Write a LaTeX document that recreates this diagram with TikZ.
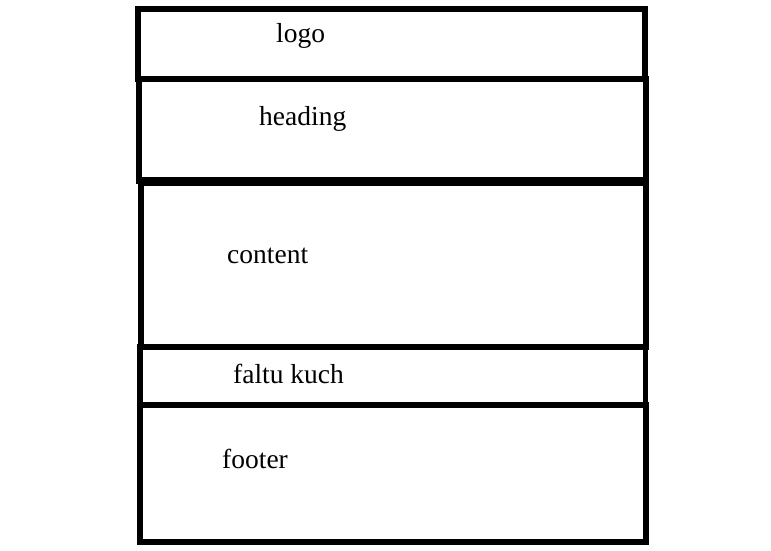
\documentclass[tikz,border=0pt]{standalone}
\usepackage{fontspec}
\setmainfont{Liberation Serif}
\begin{document}
\begin{tikzpicture}[x=1pt,y=-1pt,
  panel/.style={draw=black,line width=6pt},
  label/.style={anchor=base west,inner sep=0pt,font=\fontsize{27.5}{30}\selectfont}]
\useasboundingbox (0,0) rectangle (771,550);
% page sections, top to bottom
\draw[panel,line width=6.5pt] (138,9) rectangle (645,79);
\draw[panel,line width=6.5pt] (139,79) rectangle (646,180.5);
\draw[panel,line width=6pt] (141,183) rectangle (645.5,347);
\draw[panel,line width=5.5pt] (140,347) rectangle (645.5,405);
\draw[panel,line width=6pt] (140,405) rectangle (645.5,542);
% section labels
\node[label] (logo) at (276,42) {logo};
\node[label] (heading) at (259,125) {heading};
\node[label] (content) at (227,263) {content};
\node[label] (faltu) at (233,383) {faltu kuch};
\node[label] (footer) at (222,468) {footer};
\end{tikzpicture}
\end{document}
